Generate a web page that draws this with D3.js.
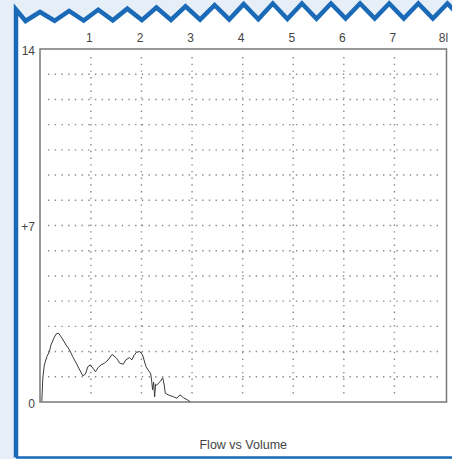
<!DOCTYPE html>
<html>
<head>
<meta charset="utf-8">
<script src="https://cdn.jsdelivr.net/npm/d3@7/dist/d3.min.js"></script>
<style>
  html, body { margin: 0; padding: 0; background: #e6eef8; overflow: hidden; }
  svg { display: block; }
  text { font-family: "Liberation Sans", Arial, sans-serif; fill: #444; }
</style>
</head>
<body>
<svg id="chart" width="452" height="459"></svg>
<script>
// ---- data ----
const volume = [0.03, 0.04, 0.05, 0.08, 0.13, 0.18, 0.21, 0.27, 0.31, 0.36, 0.43, 0.51, 0.58, 0.64, 0.71, 0.78, 0.84, 0.89, 0.94, 0.99,
  1.04, 1.09, 1.14, 1.20, 1.27, 1.34, 1.42, 1.51, 1.57, 1.64, 1.69, 1.76, 1.81, 1.85, 1.90, 1.97, 2.02, 2.05, 2.09, 2.13,
  2.18, 2.20, 2.22, 2.24, 2.26, 2.28, 2.30, 2.37, 2.42, 2.45, 2.47, 2.53, 2.63, 2.70, 2.76, 2.83, 2.91, 2.96];
const flow = [0.04, 0.48, 0.95, 1.47, 1.80, 2.00, 2.26, 2.54, 2.69, 2.73, 2.53, 2.26, 2.06, 1.80, 1.54, 1.27, 1.04, 1.10, 1.40, 1.47,
  1.34, 1.20, 1.36, 1.47, 1.54, 1.67, 1.89, 1.73, 1.54, 1.50, 1.67, 1.76, 1.67, 1.84, 1.97, 2.00, 1.87, 1.67, 1.40, 1.27,
  1.14, 0.87, 0.48, 0.79, 0.20, 0.71, 0.67, 0.81, 0.96, 0.67, 0.35, 0.28, 0.21, 0.15, 0.28, 0.17, 0.08, 0.01];
const xTickValues = [1, 2, 3, 4, 5, 6, 7, 8];
const xTickLabels = ["1", "2", "3", "4", "5", "6", "7", "8l"];
const yTickValues = [14, 7, 0];
const yTickLabels = ["14", "+7", "0"];
const gridX = [1, 2, 3, 4, 5, 6, 7];
const gridY = [1, 2, 3, 4, 5, 6, 7, 8, 9, 10, 11, 12, 13];
const title = "Flow vs Volume";

// ---- layout ----
const W = 452, H = 459;
const frame = { left: 40, top: 49, right: 446.5, bottom: 402 };
const svg = d3.select("#chart");

const x = d3.scaleLinear().domain([0, 8]).range([40.3, 445]);
const y = d3.scaleLinear().domain([0, 14]).range([frame.bottom, frame.top]);

// ---- decorative card with zigzag top ----
const blue = "#1a6ab8";
const leftX = 16;
const peaks = [];
const zig = [];
zig.push([leftX, 9.5]);
for (let k = 0; k <= 15; k++) {
  const px = 40 + 29.1 * k;
  const tx = px - 14.5;
  const ty = 21 - 2.5 * Math.min(1, (tx - 25) / 330);
  const py = Math.max(3.5, 12 - 8.5 * (px - 40) / 220);
  zig.push([tx, ty]);
  zig.push([px, py]);
}
// white card
const cardPts = zig.concat([[W + 20, zig[zig.length - 1][1]], [W + 20, H - 2], [leftX, H - 2]]);
svg.append("path")
  .attr("d", d3.line()(cardPts) + "Z")
  .attr("fill", "#ffffff");
svg.append("path")
  .attr("d", d3.line()([[leftX, H - 1.5], [leftX, 9.5]].concat(zig.slice(1))))
  .attr("fill", "none")
  .attr("stroke", blue)
  .attr("stroke-width", 4.5)
  .attr("stroke-linejoin", "miter");
svg.append("line")
  .attr("x1", leftX).attr("x2", W + 5)
  .attr("y1", H - 1.5).attr("y2", H - 1.5)
  .attr("stroke", blue).attr("stroke-width", 2.5);

// ---- grid ----
const g = svg.append("g");
g.selectAll(".gy").data(gridY).enter().append("line")
  .attr("x1", frame.left + 8).attr("x2", frame.right - 6)
  .attr("y1", d => y(d)).attr("y2", d => y(d))
  .attr("stroke", "#8a8a8a").attr("stroke-width", 1.4)
  .attr("stroke-dasharray", "1.4,5.3");
g.selectAll(".gx").data(gridX).enter().append("line")
  .attr("x1", d => x(d)).attr("x2", d => x(d))
  .attr("y1", frame.top + 8).attr("y2", frame.bottom - 6)
  .attr("stroke", "#8a8a8a").attr("stroke-width", 1.4)
  .attr("stroke-dasharray", "1.4,5.3");

// ---- frame ----
svg.append("rect")
  .attr("x", frame.left).attr("y", frame.top)
  .attr("width", frame.right - frame.left).attr("height", frame.bottom - frame.top)
  .attr("fill", "none").attr("stroke", "#777").attr("stroke-width", 1.5);

// ---- curve ----
const pts = volume.map((v, i) => [v, flow[i]]);
svg.append("path")
  .datum(pts)
  .attr("d", d3.line().x(d => x(d[0])).y(d => y(d[1])))
  .attr("fill", "none").attr("stroke", "#3a3a3a").attr("stroke-width", 1)
  .attr("stroke-linejoin", "round");

// ---- axis labels ----
svg.selectAll(".xt").data(xTickValues).enter().append("text")
  .attr("x", (d) => x(d) - 1.5)
  .attr("y", 42)
  .attr("text-anchor", "middle")
  .attr("font-size", "12px")
  .text((d, i) => xTickLabels[i]);
svg.selectAll(".yt").data(yTickValues).enter().append("text")
  .attr("x", 35)
  .attr("y", d => y(d) + 5.5)
  .attr("text-anchor", "end")
  .attr("font-size", "12px")
  .text((d, i) => yTickLabels[i]);

svg.append("text")
  .attr("x", (frame.left + frame.right) / 2)
  .attr("y", 449)
  .attr("text-anchor", "middle")
  .attr("font-size", "12.5px")
  .text(title);
</script>
</body>
</html>
